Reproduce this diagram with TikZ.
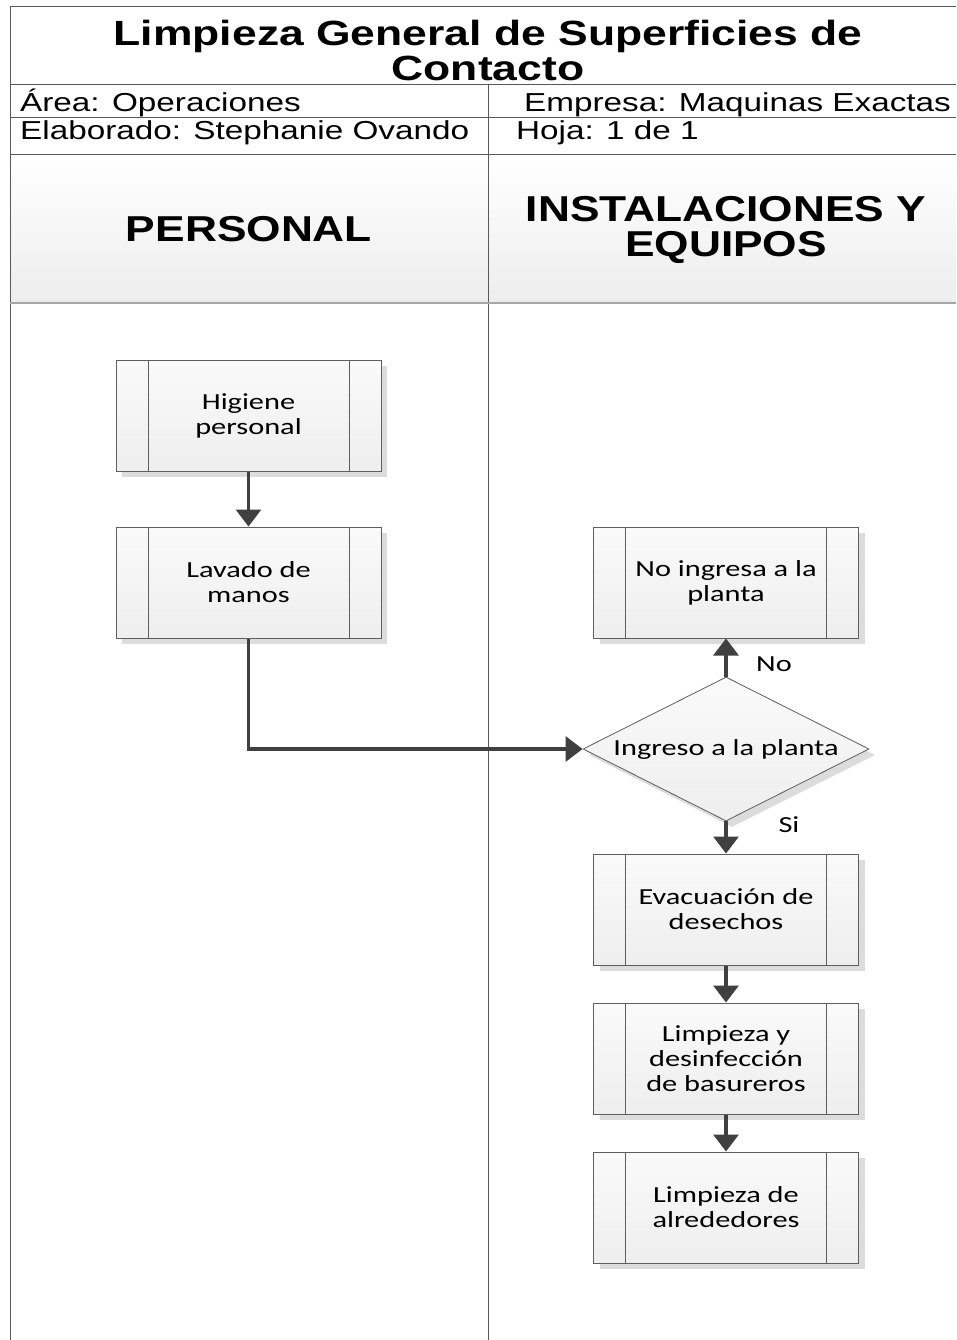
\documentclass[tikz,border=0pt]{standalone}
\usepackage{fontspec}
\usetikzlibrary{arrows.meta,shapes.geometric,shadows}
\newfontfamily\titlefont[FakeStretch=1.27]{Liberation Sans Bold}
\newfontfamily\rowfont[FakeStretch=1.28]{Liberation Sans}
\newfontfamily\lanefont[FakeStretch=1.23]{Liberation Sans Bold}
\newfontfamily\boxfont[FakeStretch=1.32]{Carlito}
\definecolor{rule}{HTML}{595959}
\definecolor{boxedge}{HTML}{5F5F5F}
\definecolor{flow}{HTML}{404040}
\definecolor{lanebot}{HTML}{EDEDED}
\definecolor{boxtop}{HTML}{FAFAFA}
\definecolor{boxbot}{HTML}{EEEEEE}
\definecolor{shade}{HTML}{DCDCDC}
\tikzset{
  frameline/.style={draw=rule, line width=1pt},
  rowtext/.style={font=\rowfont\fontsize{26}{26}\selectfont, anchor=base west, inner sep=0pt},
  boxshadow/.style={general shadow={fill=shade, shadow xshift=6pt, shadow yshift=-6pt}},
  process/.style={draw=boxedge, line width=1pt, top color=boxtop, bottom color=boxbot,
    minimum width=265pt, minimum height=111pt, inner sep=0pt, boxshadow,
    align=center, font=\boxfont\fontsize{23}{25}\selectfont,
    path picture={
      \draw[boxedge, line width=1pt]
        ([xshift=32pt]path picture bounding box.north west) -- ([xshift=32pt]path picture bounding box.south west)
        ([xshift=-32pt]path picture bounding box.north east) -- ([xshift=-32pt]path picture bounding box.south east);
    }},
  decision/.style={diamond, draw=boxedge, line width=0.8pt, top color=boxtop, bottom color=boxbot,
    minimum width=286pt, minimum height=144pt, inner sep=0pt, aspect=2, boxshadow,
    font=\boxfont\fontsize{23}{25}\selectfont},
  flowarrow/.style={draw=flow, line width=3.2pt, -{Triangle[length=17pt,width=25pt]}},
  flowlabel/.style={font=\boxfont\fontsize{23}{25}\selectfont, inner sep=0pt},
}
\begin{document}
\begin{tikzpicture}[x=1pt, y=-1pt]
\useasboundingbox (0,0) rectangle (956,1340);
\fill[white] (0,0) rectangle (956,1340);

% lane headers with a soft gradient
\shade[top color=white, bottom color=lanebot] (10,155) rectangle (956,303);

% frame of the form
\draw[frameline] (10,1340) -- (10,7) -- (956,7);
\draw[frameline] (10,85) -- (956,85);
\draw[frameline] (10,118) -- (956,118);
\draw[frameline] (10,155) -- (956,155);
\draw[frameline] (488,85) -- (488,1340);
\draw[draw=black!35, line width=2.5pt] (10,303) -- (956,303);

% title block
\node[font=\titlefont\fontsize{35}{35}\selectfont, align=center] (title) at (488,50)
  {Limpieza General de Superficies de\\Contacto};
\node[rowtext] (area) at (20,112) {Área: Operaciones};
\node[rowtext] (empresa) at (524,112) {Empresa: Maquinas Exactas};
\node[rowtext] (elab) at (20,140) {Elaborado: Stephanie Ovando};
\node[rowtext] (hoja) at (516,140) {Hoja: 1 de 1};

% swimlane titles
\node[font=\lanefont\fontsize{36}{35}\selectfont] (lane1) at (249,229) {PERSONAL};
\node[font=\lanefont\fontsize{36}{35}\selectfont, align=center] (lane2) at (726,230) {INSTALACIONES Y\\EQUIPOS};

% process steps
\node[process] (higiene) at (248.5,415.5) {Higiene\\personal};
\node[process] (lavado) at (248.5,582.5) {Lavado de\\manos};
\node[process] (noing) at (726,582.5) {No ingresa a la\\planta};
\node[decision] (ingreso) at (726,749) {Ingreso a la planta};
\node[process] (evac) at (726,909.5) {Evacuación de\\desechos};
\node[process] (limp) at (726,1058.5) {Limpieza y\\desinfección\\de basureros};
\node[process] (alred) at (726,1207.5) {Limpieza de\\alrededores};

% connectors
\draw[flowarrow] (higiene.south) -- (lavado.north);
\draw[flowarrow] (lavado.south) |- (ingreso.west);
\draw[flowarrow] (ingreso.north) -- (noing.south);
\draw[flowarrow] (ingreso.south) -- (evac.north);
\draw[flowarrow] (evac.south) -- (limp.north);
\draw[flowarrow] (limp.south) -- (alred.north);

\node[flowlabel] (lno) at (774,664) {No};
\node[flowlabel] (lsi) at (789,825) {Si};
\end{tikzpicture}
\end{document}
